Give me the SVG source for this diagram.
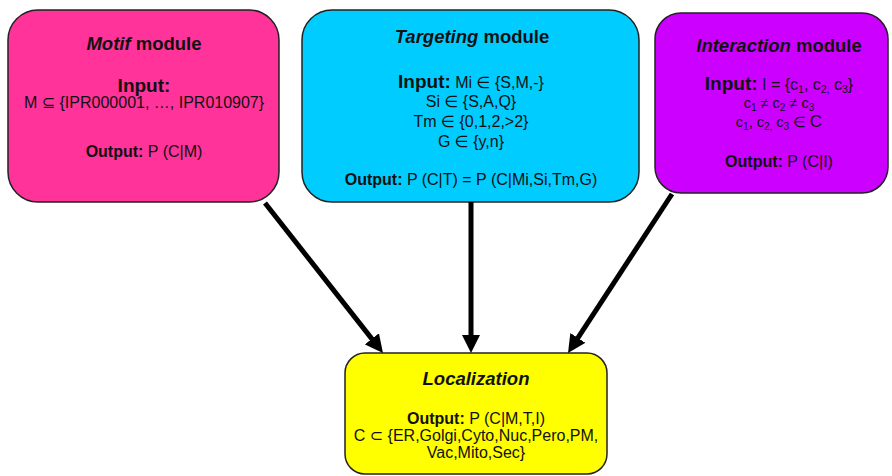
<svg xmlns="http://www.w3.org/2000/svg" width="892" height="476" viewBox="0 0 892 476">
  <style>
    text { font-family: "Liberation Sans", Arial, "DejaVu Sans", sans-serif; fill: #111; text-anchor: middle; }
    .box { stroke: #222; stroke-width: 1.5; }
    .title { font-size: 18.5px; font-weight: bold; }
    .lbl { font-size: 19px; font-weight: bold; }
    .txt { font-size: 16px; }
    .out { font-size: 16px; }
    .small { font-size: 14.5px; }
    .b { font-weight: bold; }
    .i { font-style: italic; }
    .edge { stroke: #000; stroke-width: 5; fill: none; marker-end: url(#head); }
  </style>
  <defs>
    <marker id="head" viewBox="0 0 18 18" markerUnits="userSpaceOnUse" markerWidth="18" markerHeight="18" refX="8" refY="9" orient="auto">
      <path d="M0,0 L18,9 L0,18 Z" fill="#000"/>
    </marker>
  </defs>

  <rect width="892" height="476" fill="#fff"/>

  <!-- Motif module -->
  <g id="motif">
    <rect class="box" x="8" y="10" width="271" height="192" rx="30" ry="30" fill="#FF3399"/>
    <text class="title" x="144" y="50"><tspan class="i">Motif</tspan> module</text>
    <text class="lbl" x="144" y="92">Input:</text>
    <text class="txt" x="144" y="108" font-size="15.5">M ⊆ {IPR000001, …, IPR010907}</text>
    <text class="out" x="144" y="157"><tspan class="b">Output:</tspan> P (C|M)</text>
  </g>

  <!-- Targeting module -->
  <g id="targeting">
    <rect class="box" x="302" y="10" width="337" height="192" rx="30" ry="30" fill="#00CCFF"/>
    <text class="title" x="472" y="43"><tspan class="i">Targeting</tspan> module</text>
    <text class="txt" x="471" y="88"><tspan class="lbl">Input:</tspan> Mi ∈ {S,M,-}</text>
    <text class="txt" x="471" y="107">Si ∈ {S,A,Q}</text>
    <text class="txt" x="471" y="127">Tm ∈ {0,1,2,&gt;2}</text>
    <text class="txt" x="471" y="147">G ∈ {y,n}</text>
    <text class="out" x="471" y="185"><tspan class="b">Output:</tspan> P (C|T) = P (C|Mi,Si,Tm,G)</text>
  </g>

  <!-- Interaction module -->
  <g id="interaction">
    <rect class="box" x="655" y="13" width="233" height="180" rx="26" ry="26" fill="#CC00FF"/>
    <text class="title" x="779" y="52"><tspan class="i">Interaction</tspan> module</text>
    <text class="txt" x="779" y="90"><tspan class="lbl">Input:</tspan> I = {c<tspan font-size="10.5" dy="3">1</tspan><tspan dy="-3">, c</tspan><tspan font-size="10.5" dy="3">2,</tspan><tspan dy="-3"> c</tspan><tspan font-size="10.5" dy="3">3</tspan><tspan dy="-3">}</tspan></text>
    <text class="small" x="779" y="108">c<tspan font-size="10" dy="3">1</tspan><tspan dy="-3"> ≠ c</tspan><tspan font-size="10" dy="3">2</tspan><tspan dy="-3"> ≠ c</tspan><tspan font-size="10" dy="3">3</tspan></text>
    <text class="small" x="779" y="127">c<tspan font-size="10" dy="3">1</tspan><tspan dy="-3">, c</tspan><tspan font-size="10" dy="3">2,</tspan><tspan dy="-3"> c</tspan><tspan font-size="10" dy="3">3</tspan><tspan dy="-3"> ∈ </tspan><tspan font-size="17">C</tspan></text>
    <text class="out" x="779" y="167"><tspan class="b">Output:</tspan> P (C|I)</text>
  </g>

  <!-- Localization -->
  <g id="localization">
    <rect class="box" x="345" y="353" width="262" height="121" rx="20" ry="20" fill="#FFFF00"/>
    <text class="title i" x="476" y="385">Localization</text>
    <text class="out" x="476" y="424"><tspan class="b">Output:</tspan> P (C|M,T,I)</text>
    <text class="out" x="476" y="441">C ⊂ {ER,Golgi,Cyto,Nuc,Pero,PM,</text>
    <text class="out" x="476" y="458">Vac,Mito,Sec}</text>
  </g>

  <!-- connectors -->
  <g id="edges">
    <line class="edge" x1="265" y1="203" x2="376.8" y2="345.1"/>
    <line class="edge" x1="471" y1="202" x2="471" y2="343"/>
    <line class="edge" x1="672" y1="194" x2="573.5" y2="344.6"/>
  </g>
</svg>
